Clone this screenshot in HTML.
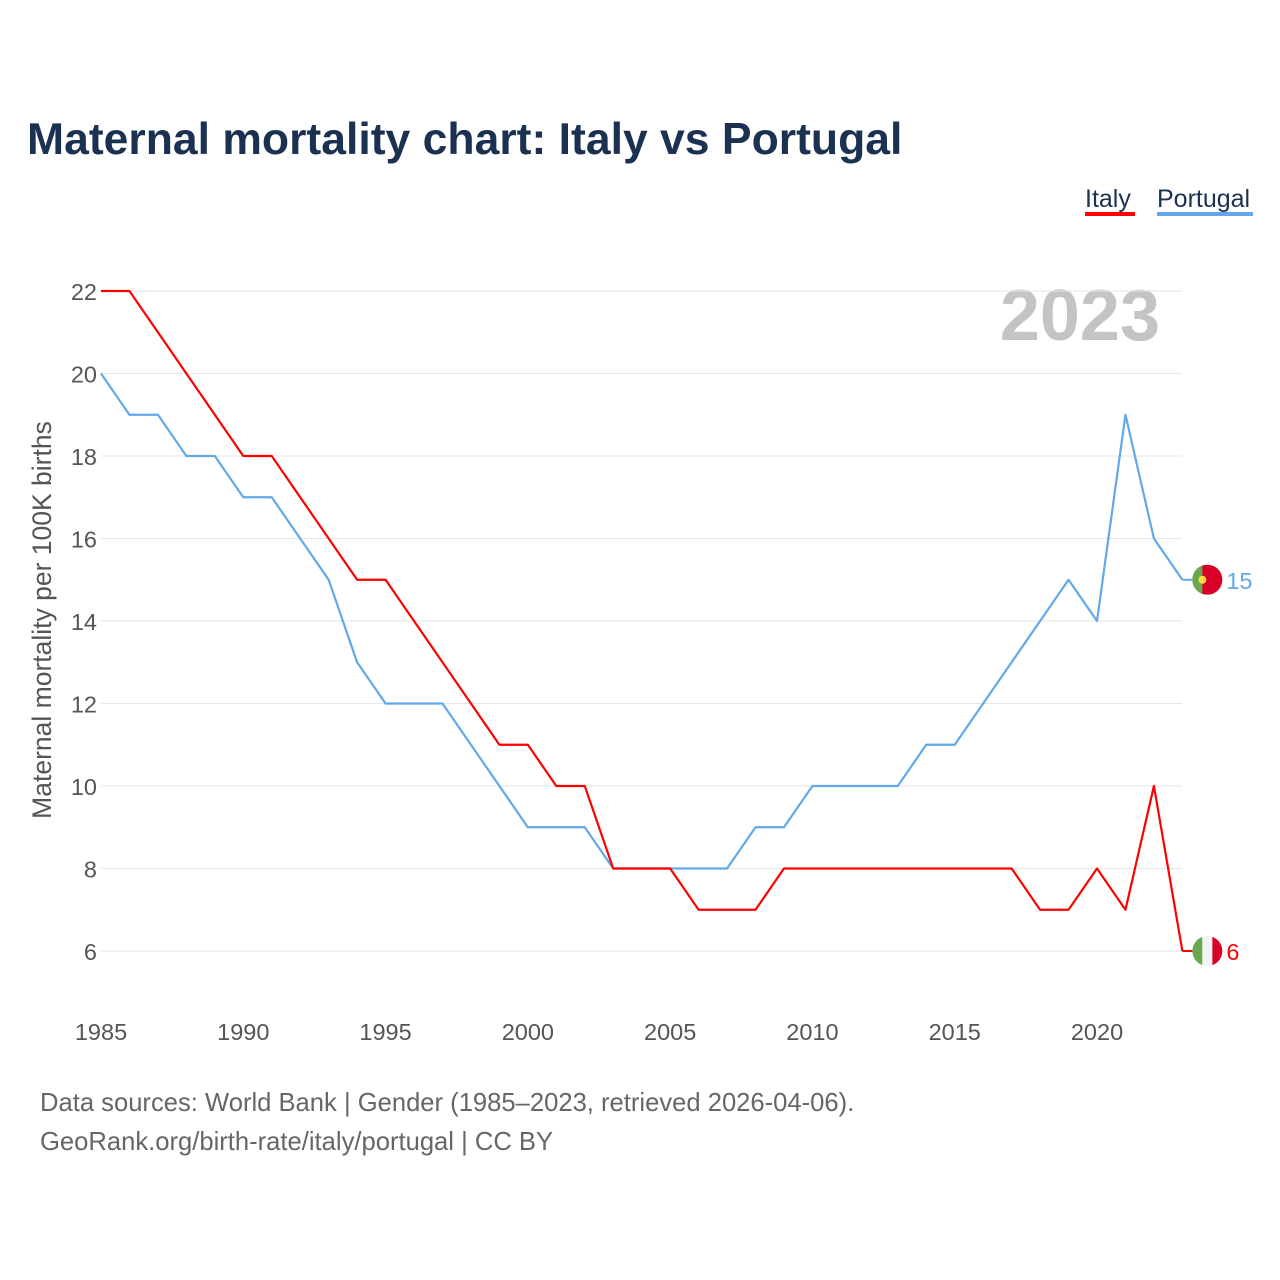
<!DOCTYPE html>
<html><head><meta charset="utf-8">
<style>
body{margin:0;background:#fff;font-family:"Liberation Sans",sans-serif;}
#wrap{position:relative;width:1280px;height:1280px;overflow:hidden;}
</style></head>
<body>
<div id="wrap">
<svg id="chart" width="1280" height="1280" xmlns="http://www.w3.org/2000/svg">
<text x="27" y="154" font-size="44.5" font-weight="bold" fill="#1b3152">Maternal mortality chart: Italy vs Portugal</text>
<g>
<text x="1085" y="207" font-size="25" fill="#1b3152">Italy</text>
<rect x="1085" y="212" width="50" height="4" fill="#ff0000"/>
</g>
<g>
<text x="1157" y="207" font-size="25" fill="#1b3152">Portugal</text>
<rect x="1157" y="212" width="96" height="4" fill="#62a8ea"/>
</g>
<text x="1160" y="340" font-size="72" font-weight="bold" fill="#c4c4c4" text-anchor="end">2023</text>
<text transform="translate(51,620) rotate(-90)" font-size="26.5" fill="#555" text-anchor="middle">Maternal mortality per 100K births</text>
<g id="grid"></g><g id="xt"></g><g id="lines"></g>
<text x="40" y="1111" font-size="25.6" fill="#666">Data sources: World Bank | Gender (1985–2023, retrieved 2026-04-06).</text>
<text x="40" y="1150" font-size="25.6" fill="#666">GeoRank.org/birth-rate/italy/portugal | CC BY</text>
</svg>
</div>
<script>
const years=[];for(let y=1985;y<=2023;y++)years.push(y);
const italy=[22,22,21,20,19,18,18,17,16,15,15,14,13,12,11,11,10,10,8,8,8,7,7,7,8,8,8,8,8,8,8,8,8,7,7,8,7,10,6];
const portugal=[20,19,19,18,18,17,17,16,15,13,12,12,12,11,10,9,9,9,8,8,8,8,8,9,9,10,10,10,10,11,11,12,13,14,15,14,19,16,15];
const yTicks=[6,8,10,12,14,16,18,20,22];
const xTicks=[1985,1990,1995,2000,2005,2010,2015,2020];
const NS="http://www.w3.org/2000/svg";
const X=v=>101+(v-1985)*(996/35);
const Y=v=>951-(v-6)*41.25;
function mk(t,a,p){const e=document.createElementNS(NS,t);for(const k in a)e.setAttribute(k,a[k]);p.appendChild(e);return e;}
const grid=document.getElementById('grid');
yTicks.forEach(t=>{
 const l=mk('line',{x1:101,x2:1182,y1:Y(t),y2:Y(t),stroke:'#e6e6e6','stroke-width':1},grid);
 
 
 const tx=mk('text',{x:97,y:Y(t)+9,'font-size':23.5,fill:'#555','text-anchor':'end'},grid);
 tx.textContent=t;
 
 
});
const xt=document.getElementById('xt');
xTicks.forEach(t=>{
 const tx=mk('text',{x:X(t),y:1040,'font-size':23.5,fill:'#555','text-anchor':'middle'},xt);
 tx.textContent=t;
 
 
});
const lines=document.getElementById('lines');
function series(vals,color,name,flag){
 const pts=vals.map((v,i)=>X(years[i])+','+Y(v)).join(' ');
 const pl=mk('polyline',{points:pts,fill:'none',stroke:color,'stroke-width':2.2,'stroke-linejoin':'round'},lines);
 
 
 const lv=vals[vals.length-1],lx=X(years[years.length-1]),ly=Y(lv);
 mk('line',{x1:lx,x2:lx+10,y1:ly,y2:ly,stroke:color,'stroke-width':2},lines);
 const g=mk('g',{},lines);
 
 
 const cx=lx+25;
 const cp=mk('clipPath',{id:'c'+name},g);mk('circle',{cx:cx,cy:ly,r:15},cp);
 const gg=mk('g',{'clip-path':'url(#c'+name+')'},g);
 if(flag==='it'){
  mk('rect',{x:cx-15,y:ly-15,width:10,height:30,fill:'#6aa84f'},gg);
  mk('rect',{x:cx-5,y:ly-15,width:10,height:30,fill:'#f4f4f4'},gg);
  mk('rect',{x:cx+5,y:ly-15,width:10,height:30,fill:'#d80027'},gg);
 }else{
  mk('rect',{x:cx-15,y:ly-15,width:30,height:30,fill:'#d80027'},gg);
  mk('rect',{x:cx-15,y:ly-15,width:10,height:30,fill:'#6aa84f'},gg);
  mk('circle',{cx:cx-5,cy:ly,r:4,fill:'#ffda44'},gg);
 }
 const t=mk('text',{x:cx+19,y:ly+9,'font-size':23.5,fill:color},lines);
 t.textContent=lv;
 
 
}
series(portugal,'#62a8ea','portugal','pt');
series(italy,'#ff0000','italy','it');
</script>
</body></html>
